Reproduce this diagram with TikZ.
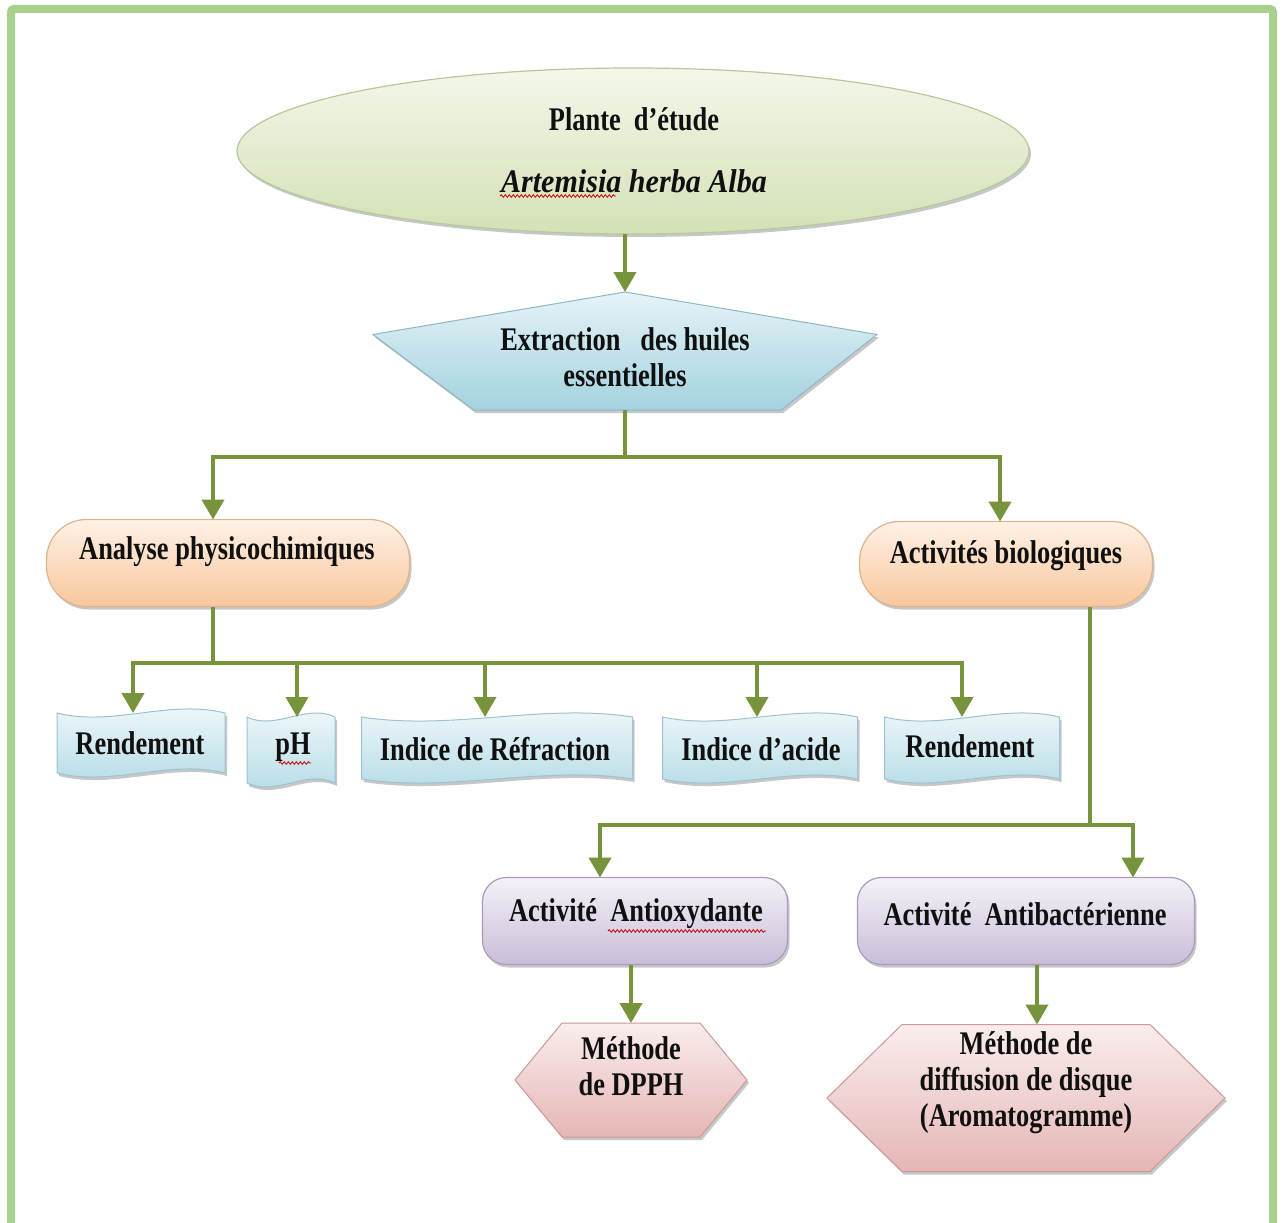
\documentclass[tikz,border=0pt]{standalone}
\usepackage{fontspec}
\setmainfont[FakeStretch=0.8]{Liberation Serif}
\usetikzlibrary{arrows.meta,shadows,calc,decorations.pathmorphing,shapes.geometric}

\definecolor{lineg}{HTML}{77933C}
\definecolor{frameg}{HTML}{A9D18E}
\definecolor{ellT}{HTML}{F4F7EA}
\definecolor{ellB}{HTML}{D3E1B6}
\definecolor{ellD}{HTML}{B9C79C}
\definecolor{penT}{HTML}{E6F3F7}
\definecolor{penB}{HTML}{A3D2DF}
\definecolor{penD}{HTML}{8FB8C4}
\definecolor{peaT}{HTML}{FEF1E6}
\definecolor{peaB}{HTML}{F9C79C}
\definecolor{peaD}{HTML}{DDB48E}
\definecolor{wavT}{HTML}{F2F9FB}
\definecolor{wavB}{HTML}{B3DBE6}
\definecolor{wavD}{HTML}{9CC3CF}
\definecolor{lavT}{HTML}{F5F2F8}
\definecolor{lavB}{HTML}{C9BDD8}
\definecolor{lavD}{HTML}{A99CBA}
\definecolor{pinT}{HTML}{FAEDED}
\definecolor{pinB}{HTML}{E5B6B5}
\definecolor{pinD}{HTML}{C99A99}
\definecolor{txt}{HTML}{101010}

\begin{document}
\begin{tikzpicture}[x=1pt,y=-1pt,
  every node/.style={inner sep=0pt, outer sep=0pt},
  lbl/.style={align=center, text=txt, font=\bfseries\fontsize{33}{36}\selectfont},
  frame/.style={rectangle, draw=none, fill=none},
  ln/.style={draw=lineg, line width=4pt},
  arr/.style={ln, -{Triangle[width=22pt,length=20pt]}},
  shd/.style={drop shadow={shadow xshift=2pt,shadow yshift=-3pt,opacity=0.22,fill=black}},
  ellsty/.style={ellipse, draw=ellD, line width=1.2pt, top color=ellT, bottom color=ellB, shd},
  pentsty/.style={draw=penD, line width=1pt, top color=penT, bottom color=penB, shd},
  pillsty/.style={rectangle, rounded corners=40pt, draw=peaD, line width=1.2pt, top color=peaT, bottom color=peaB, shd},
  wavesty/.style={draw=wavD, line width=1pt, top color=wavT, bottom color=wavB, shd},
  lavsty/.style={rectangle, rounded corners=24pt, draw=lavD, line width=1.2pt, top color=lavT, bottom color=lavB, shd},
  hexsty/.style={draw=pinD, line width=1pt, top color=pinT, bottom color=pinB, shd},
  squig/.style={draw=red!80!black, line width=0.8pt, decorate, decoration={snake, amplitude=1.3pt, segment length=4pt}}
]
\useasboundingbox (0,0) rectangle (1282,1223);
\fill[white] (0,0) rectangle (1282,1223);

% outer frame
\draw[frameg, line width=8pt, rounded corners=3pt] (11,1240) -- (11,9) -- (1273,9) -- (1273,1240);

% ---------- shape frames ----------
\node[ellsty, minimum width=792pt, minimum height=166pt] (ell) at (633,151) {};
\node[frame, minimum width=504pt, minimum height=118pt] (extr) at (625,351) {};
\node[pillsty, minimum width=363pt, minimum height=87pt] (ana) at (228,563) {};
\node[pillsty, minimum width=293pt, minimum height=85pt] (bio) at (1006,564) {};
\node[frame, minimum width=168pt, minimum height=60pt] (r1) at (141,743) {};
\node[frame, minimum width=88pt, minimum height=66pt] (ph) at (291,750) {};
\node[frame, minimum width=271pt, minimum height=62pt] (ir) at (497,748) {};
\node[frame, minimum width=195pt, minimum height=62pt] (ia) at (760,748) {};
\node[frame, minimum width=175pt, minimum height=62pt] (r2) at (972,748) {};
\node[lavsty, minimum width=305pt, minimum height=87pt] (aox) at (635,921) {};
\node[lavsty, minimum width=337pt, minimum height=87pt] (abx) at (1026,921) {};
\node[frame, minimum width=232pt, minimum height=114pt] (dpph) at (631,1080) {};
\node[frame, minimum width=398pt, minimum height=147pt] (diff) at (1026,1098) {};

% pentagon
\path[pentsty] (extr.north)
  -- ($(extr.north east)!0.36!(extr.south east)$)
  -- ($(extr.south west)!0.81!(extr.south east)$)
  -- ($(extr.south west)!0.20!(extr.south east)$)
  -- ($(extr.north west)!0.36!(extr.south west)$) -- cycle;

% wave boxes
\foreach \w in {r1,ph,ir,ia,r2}{
  \path[wavesty] let \p1=(\w.north west), \p2=(\w.south east), \n1={(\x2-\x1)/3} in
    (\x1,\y1) .. controls (\x1+\n1,\y1-14pt) and (\x1+2*\n1,\y1+14pt) .. (\x2,\y1)
    -- (\x2,\y2) .. controls (\x1+2*\n1,\y2+14pt) and (\x1+\n1,\y2-14pt) .. (\x1,\y2) -- cycle;
}

% hexagons
\path[hexsty] (dpph.west) -- ([xshift=47pt]dpph.north west) -- ([xshift=-47pt]dpph.north east)
  -- (dpph.east) -- ([xshift=-47pt]dpph.south east) -- ([xshift=47pt]dpph.south west) -- cycle;
\path[hexsty] (diff.west) -- ([xshift=75pt]diff.north west) -- ([xshift=-75pt]diff.north east)
  -- (diff.east) -- ([xshift=-75pt]diff.south east) -- ([xshift=75pt]diff.south west) -- cycle;

% ---------- connectors ----------
\coordinate (j1) at (625,457);
\coordinate (j2) at (213,663);
\coordinate (j3) at (1090,825);
\draw[arr] (ell.south -| extr.north) -- (extr.north);
\draw[ln] (extr.south) -- (j1);
\draw[arr] (j1) -| ([xshift=-15pt]ana.north);
\draw[arr] (j1) -| ([xshift=-6pt]bio.north);
\draw[ln] (ana.south -| j2) -- (j2);
\draw[arr] (j2) -| ([xshift=-8pt]r1.north);
\draw[arr] (j2) -| ([xshift=6pt]ph.north);
\draw[arr] (j2) -| ([xshift=-12pt]ir.north);
\draw[arr] (j2) -| ([xshift=-3pt]ia.north);
\draw[arr] (j2) -| ([xshift=-10pt]r2.north);
\draw[ln] (bio.south -| j3) -- (j3);
\draw[arr] (j3) -| ([xshift=-35pt]aox.north);
\draw[arr] (j3) -| ([xshift=107pt]abx.north);
\draw[arr] (aox.south -| dpph.north) -- (dpph.north);
\draw[arr] ([xshift=11pt]abx.south) -- ([xshift=11pt]diff.north);

% ---------- texts ----------
\node[lbl, font=\bfseries\fontsize{33}{62}\selectfont] (tell) at (634,150) {Plante~~d’étude\\\scalebox{1.14}[1]{\textit{Artemisia herba Alba}}};
\node[lbl] (textr) at (625,357) {Extraction~~ des huiles\\essentielles};
\node[lbl] (tana) at (227,552) {Analyse physicochimiques};
\node[lbl] (tbio) at (1006,556) {Activités biologiques};
\node[lbl] (tr1) at (140,743) {Rendement};
\node[lbl] (tph) at (293,747) {pH};
\node[lbl] (tir) at (495,749) {Indice de Réfraction};
\node[lbl] (tia) at (761,749) {Indice d’acide};
\node[lbl] (tr2) at (970,746) {Rendement};
\node[lbl] (taox) at (636,914) {Activité~ Antioxydante};
\node[lbl] (tabx) at (1025,914) {Activité~ Antibactérienne};
\node[lbl] (tdpph) at (631,1066) {Méthode\\de DPPH};
\node[lbl] (tdiff) at (1026,1083) {Méthode de\\diffusion de disque\\(Aromatogramme)};

% spell-check marks
\path[squig] (500,196) -- (616,196);
\path[squig] (279,763) -- (311,763);
\path[squig] (608,931) -- (766,931);
\end{tikzpicture}
\end{document}
